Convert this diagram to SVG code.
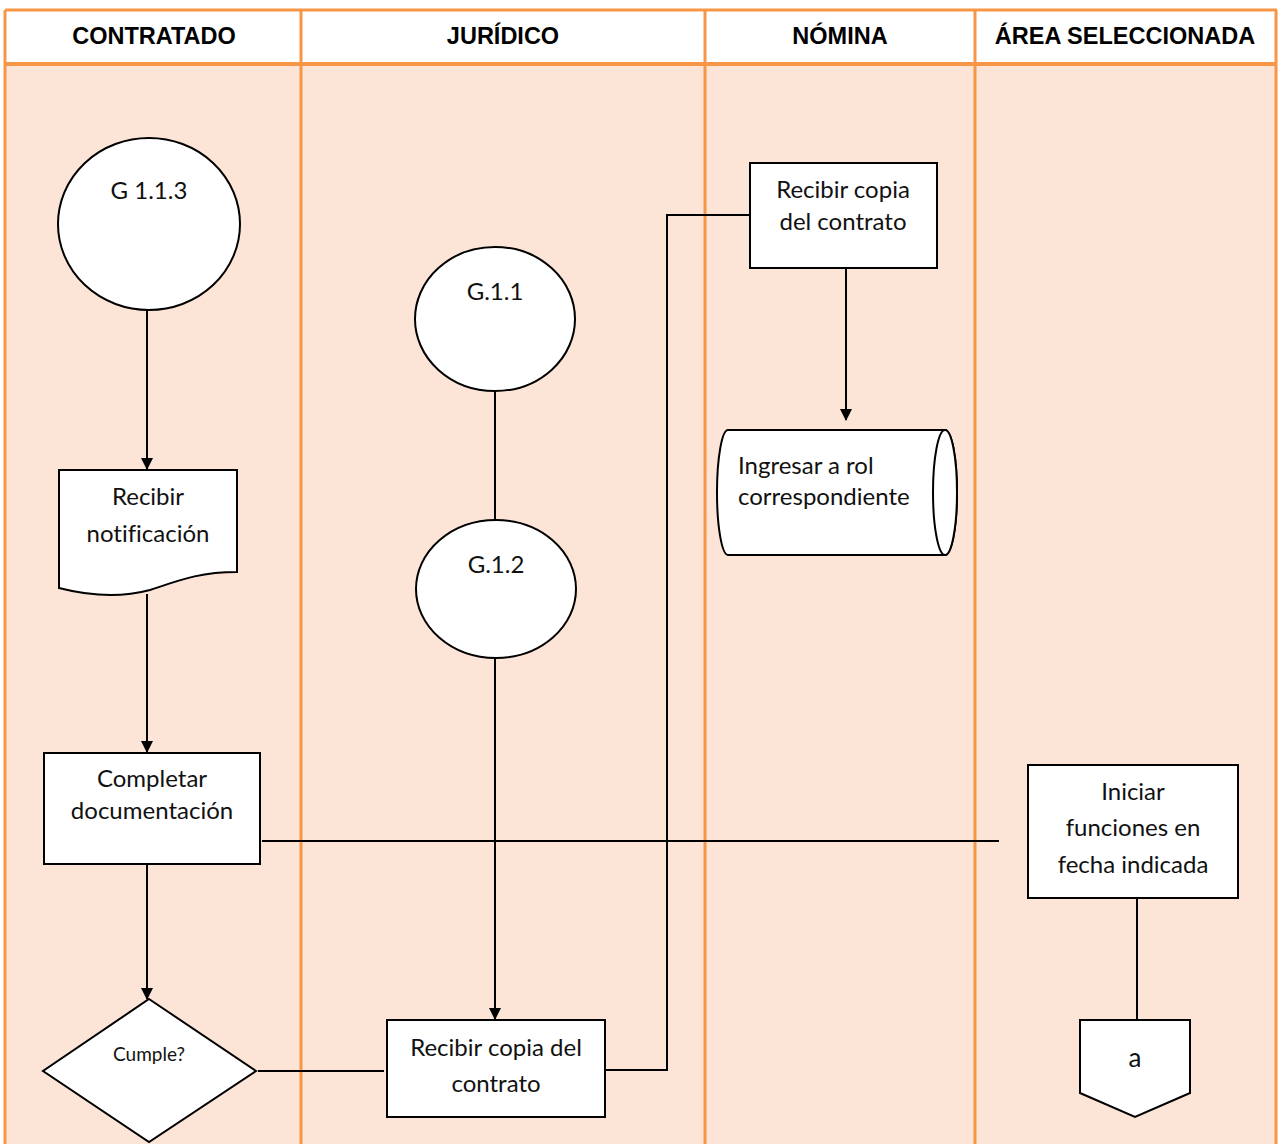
<svg xmlns="http://www.w3.org/2000/svg" width="1278" height="1144" viewBox="0 0 1278 1144">
  <defs>
    <style>
      .lane { fill: #FCE4D6; }
      .head { fill: #FFFFFF; }
      .border { stroke: #F79646; stroke-width: 3; fill: none; }
      .htxt { font-family: "Liberation Sans", Arial, sans-serif; font-weight: bold; font-size: 23.5px; fill: #000; text-anchor: middle; }
      .shape { fill: #FFFFFF; stroke: #000; stroke-width: 2; }
      .txt { font-family: Lato, "Open Sans", sans-serif; font-size: 24px; fill: #111; text-anchor: middle; font-variant-ligatures: none; }
      .txtl { font-family: Lato, "Open Sans", sans-serif; font-size: 24px; fill: #111; font-variant-ligatures: none; }
      .small { font-family: Lato, "Open Sans", sans-serif; font-size: 19px; fill: #111; text-anchor: middle; }
      .conn { stroke: #000; stroke-width: 2; fill: none; }
    </style>
    <marker id="arrow" viewBox="0 0 12 12" refX="11" refY="6" markerWidth="12" markerHeight="12" markerUnits="userSpaceOnUse" orient="auto">
      <path d="M0,0 L12,6 L0,12 Z" fill="#000"/>
    </marker>
  </defs>

  <!-- swimlane background -->
  <g id="lanes">
    <rect class="lane" x="5" y="64" width="1272" height="1080"/>
    <rect class="head" x="5" y="10" width="1272" height="54"/>
    <line class="border" x1="5" y1="10" x2="1277" y2="10"/>
    <line class="border" x1="5" y1="10" x2="5" y2="1144"/>
    <line class="border" x1="1276" y1="10" x2="1276" y2="1144"/>
    <line class="border" x1="301" y1="10" x2="301" y2="1144"/>
    <line class="border" x1="705" y1="10" x2="705" y2="1144"/>
    <line class="border" x1="975" y1="10" x2="975" y2="1144"/>
    <line x1="5" y1="64" x2="1277" y2="64" stroke="#F79646" stroke-width="4"/>
    <text class="htxt" x="154" y="44">CONTRATADO</text>
    <text class="htxt" x="503" y="44">JURÍDICO</text>
    <text class="htxt" x="840" y="44">NÓMINA</text>
    <text class="htxt" x="1125" y="44">ÁREA SELECCIONADA</text>
  </g>

  <!-- connectors -->
  <g id="connectors">
    <line class="conn" x1="147" y1="310" x2="147" y2="469" marker-end="url(#arrow)"/>
    <line class="conn" x1="147" y1="594" x2="147" y2="752" marker-end="url(#arrow)"/>
    <line class="conn" x1="147" y1="864" x2="147" y2="999" marker-end="url(#arrow)"/>
    <line class="conn" x1="258" y1="1071" x2="384" y2="1071"/>
    <line class="conn" x1="495" y1="391" x2="495" y2="520"/>
    <line class="conn" x1="495" y1="657" x2="495" y2="1019" marker-end="url(#arrow)"/>
    <polyline class="conn" points="605,1070 667,1070 667,215 750,215"/>
    <line class="conn" x1="846" y1="268" x2="846" y2="420" marker-end="url(#arrow)"/>
    <line class="conn" x1="262" y1="841" x2="999" y2="841"/>
    <line class="conn" x1="1137" y1="898" x2="1137" y2="1020"/>
  </g>

  <!-- Contratado lane -->
  <g id="n-g113">
    <ellipse class="shape" cx="149" cy="224" rx="91" ry="86"/>
    <text class="txt" x="149" y="199">G 1.1.3</text>
  </g>
  <g id="n-recibir-notificacion">
    <path class="shape" d="M59,470 L237,470 L237,572 C200,572 180,580 150,590 C120,598 90,596 59,588 Z"/>
    <text class="txt" x="148" y="505">Recibir</text>
    <text class="txt" x="148" y="542">notificación</text>
  </g>
  <g id="n-completar">
    <rect class="shape" x="44" y="753" width="216" height="111"/>
    <text class="txt" x="152" y="787">Completar</text>
    <text class="txt" x="152" y="819">documentación</text>
  </g>
  <g id="n-cumple">
    <polygon class="shape" points="149,999 256,1071 149,1142 43,1071"/>
    <text class="small" x="149" y="1061">Cumple?</text>
  </g>

  <!-- Jurídico lane -->
  <g id="n-g11">
    <ellipse class="shape" cx="495" cy="319" rx="80" ry="72"/>
    <text class="txt" x="495" y="300">G.1.1</text>
  </g>
  <g id="n-g12">
    <ellipse class="shape" cx="496" cy="589" rx="80" ry="69"/>
    <text class="txt" x="496" y="573">G.1.2</text>
  </g>
  <g id="n-recibir-copia-juridico">
    <rect class="shape" x="387" y="1020" width="218" height="97"/>
    <text class="txt" x="496" y="1056">Recibir copia del</text>
    <text class="txt" x="496" y="1092">contrato</text>
  </g>

  <!-- Nómina lane -->
  <g id="n-recibir-copia-nomina">
    <rect class="shape" x="750" y="163" width="187" height="105"/>
    <text class="txt" x="843" y="198">Recibir copia</text>
    <text class="txt" x="843" y="230">del contrato</text>
  </g>
  <g id="n-ingresar-rol">
    <path class="shape" d="M728,430 L945,430 A12,62.5 0 0 1 945,555 L728,555 A11,62.5 0 0 1 728,430 Z"/>
    <ellipse class="shape" cx="945" cy="492.5" rx="12" ry="62.5"/>
    <text class="txtl" x="738" y="474">Ingresar a rol</text>
    <text class="txtl" x="738" y="505">correspondiente</text>
  </g>

  <!-- Área seleccionada lane -->
  <g id="n-iniciar">
    <rect class="shape" x="1028" y="765" width="210" height="133"/>
    <text class="txt" x="1133" y="800">Iniciar</text>
    <text class="txt" x="1133" y="836">funciones en</text>
    <text class="txt" x="1133" y="873">fecha indicada</text>
  </g>
  <g id="n-conector-a">
    <polygon class="shape" points="1080,1020 1190,1020 1190,1093 1135,1117 1080,1093"/>
    <text class="txt" x="1135" y="1067" style="font-size:26px">a</text>
  </g>
</svg>
